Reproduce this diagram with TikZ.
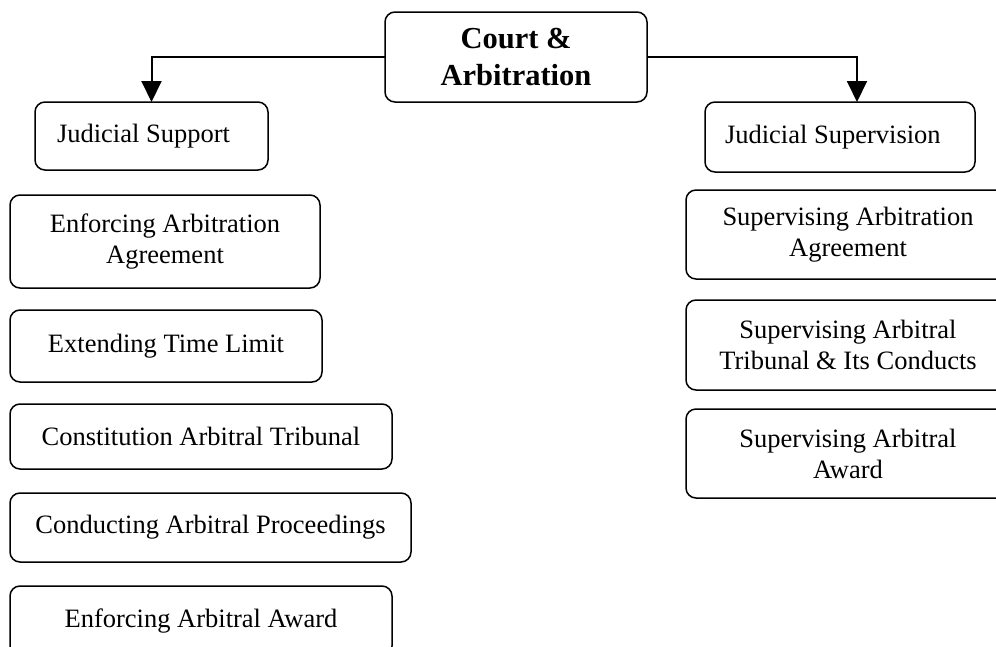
\documentclass[tikz,border=0pt]{standalone}
\usepackage{fontspec}
\setmainfont{Liberation Serif}
\usepackage{tikz}
\usetikzlibrary{arrows.meta}

\begin{document}
\begin{tikzpicture}[x=1pt,y=-1pt,
    box/.style={draw, line width=1.5pt, rounded corners=10pt, anchor=north west,
        inner sep=0pt, outer sep=0pt, align=center,
        font=\fontsize{26.5}{31}\selectfont},
    link/.style={line width=2pt, -{Triangle[length=21pt,width=20pt]}}]

        % Page frame (pixel units)
        \useasboundingbox (0,0) rectangle (996,646);

        % Root box
        \node[box, minimum width=262pt, minimum height=90pt,
              font=\bfseries\fontsize{30.5}{37}\selectfont]
              (court) at (385,12) {Court \&\\Arbitration};

        % Two branch heads
        \node[box, minimum height=68pt, text width=189pt, inner xsep=22pt,
              align=flush left] (jsupport) at (35,102) {Judicial Support};
        \node[box, minimum height=70pt, text width=230pt, inner xsep=20pt,
              align=flush left] (jsupervision) at (705,102) {Judicial Supervision};

        % Left column (support)
        \foreach \nm/\ytop/\w/\h/\txt in {
            enfagr/195/310/93/{Enforcing Arbitration\\Agreement},
            extime/310/312/72/{Extending Time Limit},
            constr/404/382/65/{Constitution Arbitral Tribunal},
            conduct/493/401/69/{Conducting Arbitral Proceedings},
            enfaward/586/382/70/{Enforcing Arbitral Award}} {
            \node[box, minimum width=\w pt, minimum height=\h pt] (\nm) at (10,\ytop) {\txt};
        }

        % Right column (supervision), runs off the page edge
        \foreach \nm/\ytop/\h/\txt in {
            supagr/190/89/{Supervising Arbitration\\Agreement},
            suptrib/300/90/{Supervising Arbitral\\Tribunal \& Its Conducts},
            supaward/409/89/{Supervising Arbitral\\Award}} {
            \node[box, minimum width=324pt, minimum height=\h pt] (\nm) at (686,\ytop) {\txt};
        }

        % Arrows from the root
        \draw[link] (court.west) -| (jsupport.north);
        \draw[link] (court.east) -| ([xshift=17pt]jsupervision.north);

\end{tikzpicture}
\end{document}
